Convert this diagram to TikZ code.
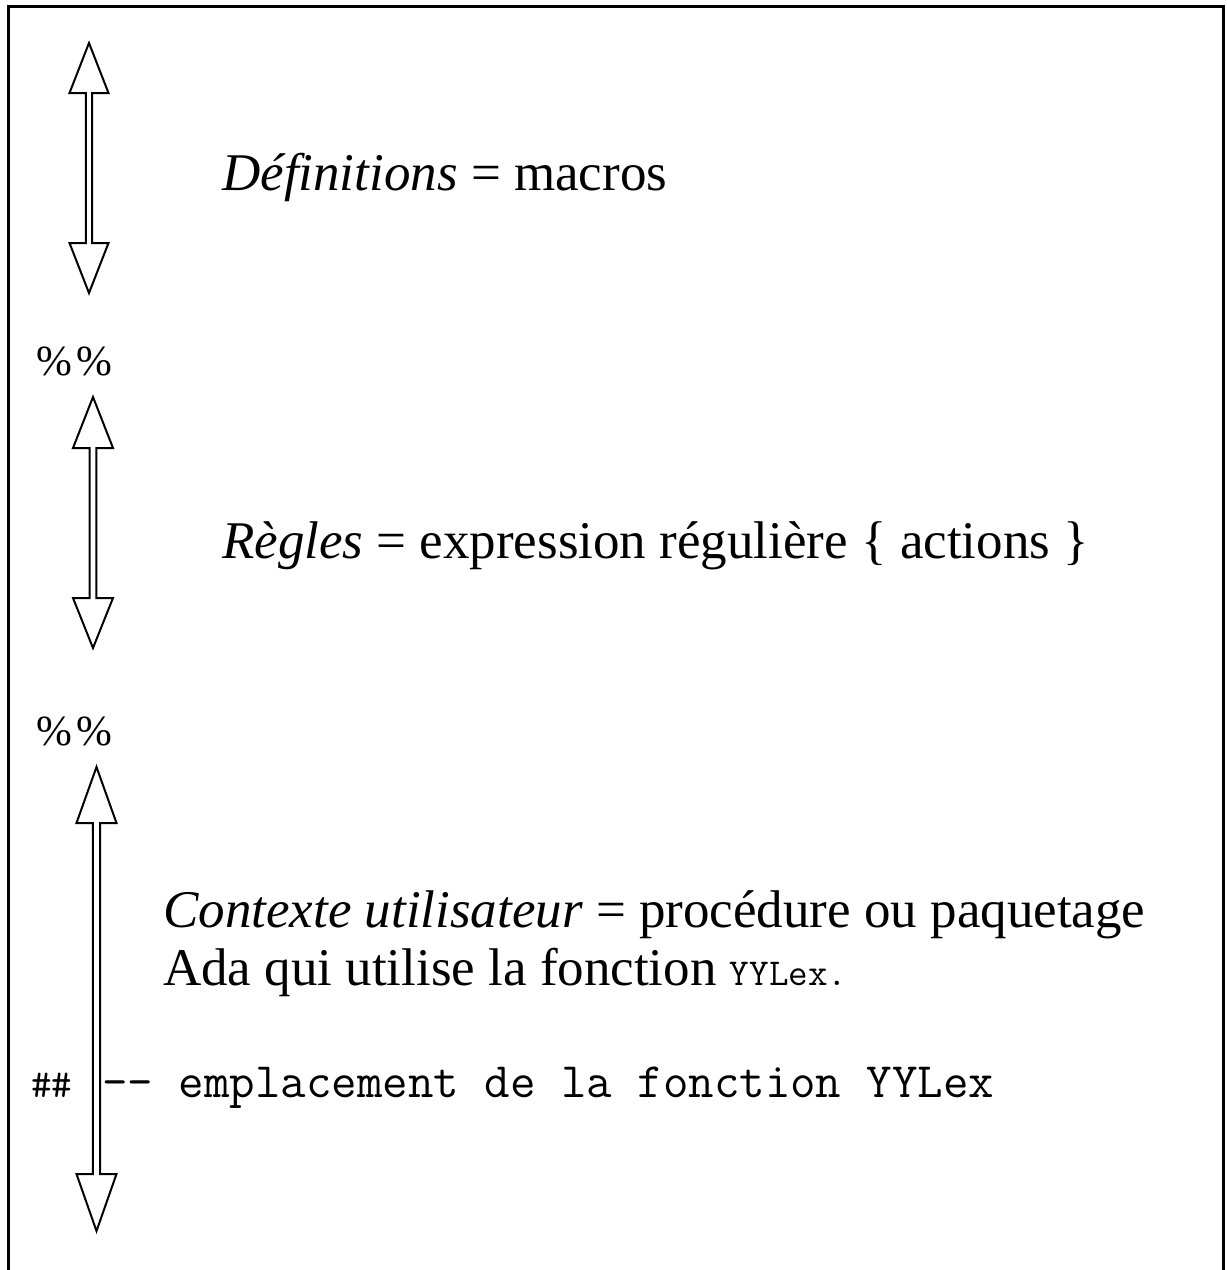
\documentclass[tikz,border=0pt]{standalone}
\usepackage{fontspec}
\setmainfont{Liberation Serif}
\newcommand\myblockarrow[7]{%
  \draw[blockarrow] (#1,#2) -- (#1+#6,#3) -- (#1+#7,#3) -- (#1+#7,#4) -- (#1+#6,#4)
    -- (#1,#5) -- (#1-#6,#4) -- (#1-#7,#4) -- (#1-#7,#3) -- (#1-#6,#3) -- cycle;}
\begin{document}
\begin{tikzpicture}[x=1pt,y=-1pt,
  blockarrow/.style={draw=black, line width=2pt, fill=white, line join=miter},
  lbl/.style={anchor=base west, inner sep=0pt, font=\fontsize{53}{60}\selectfont},
  pct/.style={anchor=base west, inner sep=0pt, font=\fontsize{43}{50}\selectfont},
  mono/.style={anchor=base west, inner sep=0pt, font=\ttfamily\fontsize{49.5}{55}\selectfont},
  hashes/.style={anchor=base west, inner sep=0pt, font=\ttfamily\fontsize{40}{44}\selectfont}]
\useasboundingbox (0,0) rectangle (1227,1270);
% frame (bottom edge lies outside the picture)
\draw[line width=3pt] (8,1272) -- (8,6.5) -- (1223,6.5) -- (1223,1272);
% arrows
\myblockarrow{89}{43}{93}{243}{293}{19.5}{3.2}
\myblockarrow{93}{397}{448}{598}{648}{20}{3.3}
\myblockarrow{96.5}{767}{823}{1174}{1231}{20}{3.6}
% texts
\node[lbl] (def) at (222,190) {\textit{Définitions} = macros};
\node[pct] (sep1) at (36,375) {\%\kern4pt\%};
\node[lbl] (reg) at (222,558) {\textit{Règles} = expression régulière \{ actions \}};
\node[pct] (sep2) at (36,745) {\%\kern4pt\%};
\node[lbl] (ctx) at (163,927) {\textit{Contexte utilisateur} = procédure ou paquetage};
\node[lbl] (ada) at (163,985) {Ada qui utilise la fonction {\ttfamily\fontsize{38}{42}\selectfont YYLex.}};
\node[hashes] (hash) at (31,1097) {\#\#};
\node[mono] (empl) at (102,1097) {-{}- emplacement de la fonction YYLex};
\end{tikzpicture}
\end{document}
